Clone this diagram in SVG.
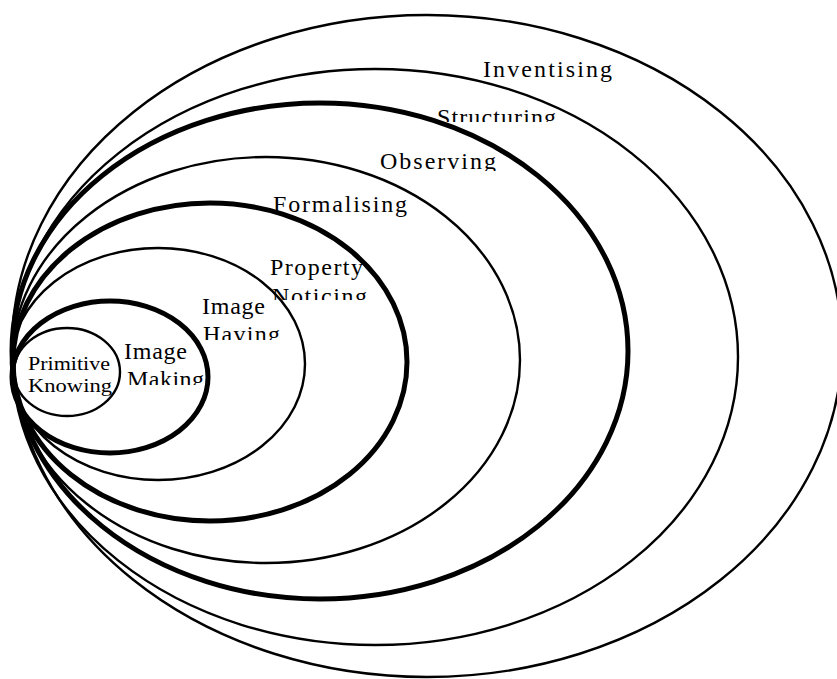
<svg xmlns="http://www.w3.org/2000/svg" width="837" height="679" viewBox="0 0 837 679">
<style>
.thin{fill:none;stroke:#000;stroke-width:2.4}
.thick{fill:none;stroke:#000;stroke-width:5}
text{font-family:"Liberation Serif","Times New Roman",serif;font-size:24px;fill:#000}
.sm{font-size:19px}
</style>
<defs>
<clipPath id="cS"><rect x="420" y="90" width="160" height="32"/></clipPath>
<clipPath id="cO"><rect x="370" y="140" width="140" height="31"/></clipPath>
<clipPath id="cN"><rect x="260" y="280" width="120" height="20"/></clipPath>
<clipPath id="cH"><rect x="195" y="318" width="100" height="22"/></clipPath>
<clipPath id="cM"><rect x="120" y="362" width="100" height="23"/></clipPath>
</defs>
<rect width="837" height="679" fill="#fff"/>
<g id="inventising">
<ellipse class="thin" cx="427" cy="346" rx="415" ry="331"/>
<text x="483" y="77" textLength="129" lengthAdjust="spacing">Inventising</text>
</g>
<g id="structuring">
<ellipse class="thin" cx="375" cy="357" rx="363" ry="288"/>
<text x="437" y="125" textLength="119" lengthAdjust="spacing" clip-path="url(#cS)">Structuring</text>
</g>
<g id="observing">
<ellipse class="thick" cx="320" cy="351" rx="308" ry="248"/>
<text x="380" y="169" textLength="116" lengthAdjust="spacing" clip-path="url(#cO)">Observing</text>
</g>
<g id="formalising">
<ellipse class="thin" cx="266" cy="360" rx="254" ry="203"/>
<text x="273" y="212" textLength="134" lengthAdjust="spacing">Formalising</text>
</g>
<g id="property-noticing">
<ellipse class="thick" cx="210" cy="362" rx="197" ry="159"/>
<text x="270" y="275" textLength="93" lengthAdjust="spacing">Property</text>
<text x="272" y="304" textLength="95" lengthAdjust="spacing" clip-path="url(#cN)">Noticing</text>
</g>
<g id="image-having">
<ellipse class="thin" cx="158" cy="364" rx="147" ry="116"/>
<text x="202" y="314" textLength="63" lengthAdjust="spacing">Image</text>
<text x="203" y="342" textLength="77" lengthAdjust="spacing" clip-path="url(#cH)">Having</text>
</g>
<g id="image-making">
<ellipse class="thick" cx="110" cy="377" rx="98" ry="76"/>
<text x="124" y="359" textLength="63" lengthAdjust="spacing">Image</text>
<text x="127" y="387" textLength="77" lengthAdjust="spacing" clip-path="url(#cM)">Making</text>
</g>
<g id="primitive-knowing">
<ellipse class="thin" cx="67" cy="372" rx="53" ry="44"/>
<text class="sm" x="28" y="370" textLength="82" lengthAdjust="spacingAndGlyphs">Primitive</text>
<text class="sm" x="28" y="392" textLength="84" lengthAdjust="spacingAndGlyphs">Knowing</text>
</g>
<g id="connectors"></g>
</svg>
